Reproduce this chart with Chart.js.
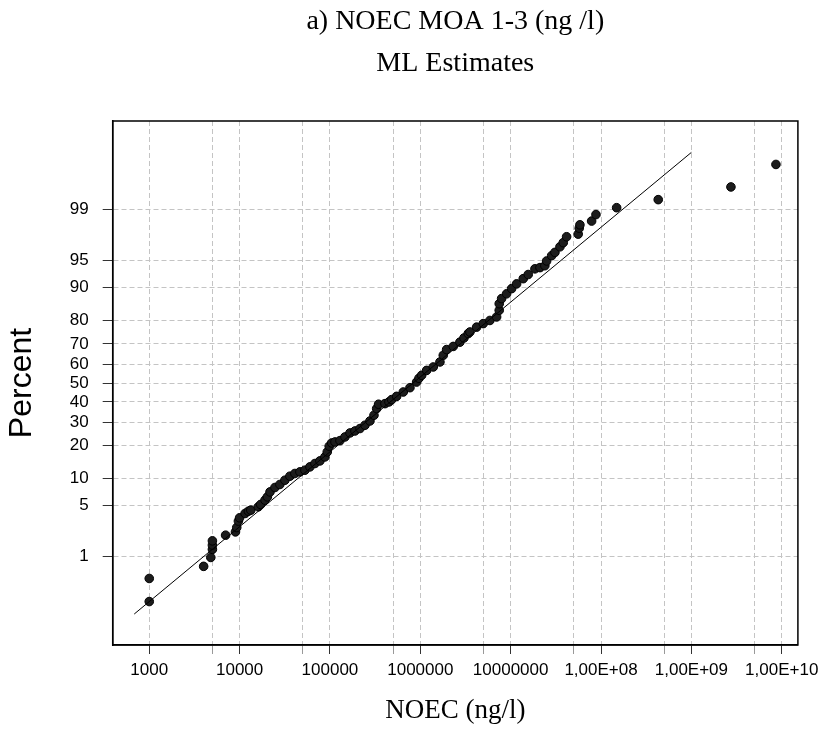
<!DOCTYPE html>
<html>
<head>
<meta charset="utf-8">
<script src="https://cdn.jsdelivr.net/npm/chart.js@4/dist/chart.umd.min.js"></script>
<style>
  body { margin: 0; background: #fff; }
  canvas { display: block; }
</style>
</head>
<body>
<canvas id="probChart" width="825" height="732"></canvas>
<script>
// NOEC values (ng/l) and their plotted percent
const noecValues = [1000, 1000, 4000, 4800, 5000, 5000, 5000, 7000, 9000, 9300, 9700, 10000,
  11500, 12500, 13300, 16100, 17100, 19100, 20300, 21700, 24600, 27900, 31700, 36000, 40900,
  46500, 52800, 60000, 68200, 77400, 87900, 93300, 98100, 104400, 113600, 129000, 146500,
  166500, 189000, 215000, 244000, 277000, 307000, 329000, 345000, 406000, 450000, 482000,
  547000, 648000, 768000, 910000, 966000, 1035000, 1175000, 1391000, 1649000, 1795000,
  1955000, 2313000, 2742000, 3041000, 3388000, 3540000, 4197000, 4970000, 5890000, 6990000,
  7470000, 7470000, 7940000, 9020000, 10250000, 11640000, 13780000, 15640000, 18560000,
  21100000, 23900000, 25000000, 28400000, 30900000, 35100000, 38200000, 41600000, 55900000,
  57400000, 58400000, 78700000, 87900000, 148900000, 429600000, 2740000000, 8630000000];
const percentValues = [0.17, 0.44, 0.70, 0.97, 1.29, 1.49, 1.72, 2.07, 2.30, 2.64, 3.21, 3.54,
  4.02, 4.29, 4.42, 4.85, 5.18, 5.82, 6.35, 7.22, 8.07, 8.69, 9.63, 10.58, 11.26,
  11.68, 12.13, 13.05, 14.03, 14.82, 16.09, 17.78, 19.85, 21.09, 21.48, 22.0, 23.49,
  25.17, 26.02, 27.09, 28.57, 30.54, 33.28, 36.58, 38.8, 39.1, 40.0, 41.2,
  42.9, 45.2, 47.5, 50.5, 52.5, 54.1, 56.7, 58.5, 61.1, 64.5,
  67.3, 68.8, 70.8, 72.7, 74.6, 75.3, 77.3, 78.7, 79.9, 81.2,
  83.5, 85.6, 87.1, 88.4, 89.7, 90.8, 91.9, 92.7, 93.7,
  93.9, 94.2, 94.9, 95.6, 96.0, 96.6, 97.0, 97.5, 97.7,
  98.1, 98.3, 98.5, 98.8, 99.06, 99.30, 99.57, 99.83];

// ML fit line end points
const fitNoec = [682, 1000000000];
const fitPercent = [0.098, 99.90];

// axes
const percentTicks = [1, 5, 10, 20, 30, 40, 50, 60, 70, 80, 90, 95, 99];
const xGridValues = [1000, 5000, 10000, 50000, 100000, 500000, 1000000, 5000000, 10000000,
  50000000, 100000000, 500000000, 1000000000, 5000000000, 10000000000];
const xLabelValues = [1000, 10000, 100000, 1000000, 10000000, 100000000, 1000000000, 10000000000];
const xLabels = ['1000', '10000', '100000', '1000000', '10000000', '1,00E+08', '1,00E+09', '1,00E+10'];
const xMin = 394, xMax = 15100000000;
const yMin = 0.0223, yMax = 99.9777;

// inverse normal cdf (Acklam)
function probit(p) {
  const a = [-3.969683028665376e+01, 2.209460984245205e+02, -2.759285104469687e+02, 1.383577518672690e+02, -3.066479806614716e+01, 2.506628277459239e+00];
  const b = [-5.447609879822406e+01, 1.615858368580409e+02, -1.556989798598866e+02, 6.680131188771972e+01, -1.328068155288572e+01];
  const c = [-7.784894002430293e-03, -3.223964580411365e-01, -2.400758277161838e+00, -2.549732539343734e+00, 4.374664141464968e+00, 2.938163982698783e+00];
  const d = [7.784695709041462e-03, 3.224671290700398e-01, 2.445134137142996e+00, 3.754408661907416e+00];
  const pl = 0.02425;
  let q, r;
  if (p < pl) {
    q = Math.sqrt(-2 * Math.log(p));
    return (((((c[0]*q+c[1])*q+c[2])*q+c[3])*q+c[4])*q+c[5]) / ((((d[0]*q+d[1])*q+d[2])*q+d[3])*q+1);
  }
  if (p <= 1 - pl) {
    q = p - 0.5; r = q * q;
    return (((((a[0]*r+a[1])*r+a[2])*r+a[3])*r+a[4])*r+a[5])*q / (((((b[0]*r+b[1])*r+b[2])*r+b[3])*r+b[4])*r+1);
  }
  q = Math.sqrt(-2 * Math.log(1 - p));
  return -(((((c[0]*q+c[1])*q+c[2])*q+c[3])*q+c[4])*q+c[5]) / ((((d[0]*q+d[1])*q+d[2])*q+d[3])*q+1);
}
function normCdf(z) {
  const t = 1 / (1 + 0.3275911 * Math.abs(z) / Math.SQRT2);
  const y = 1 - (((((1.061405429*t - 1.453152027)*t) + 1.421413741)*t - 0.284496736)*t + 0.254829592)*t * Math.exp(-z*z/2);
  return z >= 0 ? (1 + y) / 2 : (1 - y) / 2;
}

// normal probability (percent) scale
class ProbitScale extends Chart.Scale {
  static id = 'probit';
  static defaults = {};
  determineDataLimits() {
    this.min = this.options.min;
    this.max = this.options.max;
  }
  buildTicks() {
    return percentTicks.map(v => ({ value: v }));
  }
  getLabelForValue(v) { return String(v); }
  configure() {
    super.configure();
    this._zMin = probit(this.min / 100);
    this._zMax = probit(this.max / 100);
  }
  getPixelForValue(v) {
    return this.getPixelForDecimal((probit(v / 100) - this._zMin) / (this._zMax - this._zMin));
  }
  getValueForPixel(px) {
    const dec = this.getDecimalForPixel(px);
    return 100 * normCdf(this._zMin + dec * (this._zMax - this._zMin));
  }
}
Chart.register(ProbitScale);

const frame = {
  id: 'frame',
  afterDatasetsDraw(chart) {
    const { ctx, chartArea: a } = chart;
    ctx.save();
    ctx.strokeStyle = '#000';
    ctx.lineWidth = 1.5;
    ctx.strokeRect(a.left, a.top, a.right - a.left, a.bottom - a.top);
    ctx.restore();
  }
};

const ctx = document.getElementById('probChart').getContext('2d');
new Chart(ctx, {
  type: 'scatter',
  data: {
    datasets: [{
      label: 'ML fit',
      data: fitNoec.map((x, i) => ({ x: x, y: fitPercent[i] })),
      showLine: true,
      borderColor: '#000',
      borderWidth: 1,
      pointRadius: 0
    }, {
      label: 'NOEC',
      data: noecValues.map((x, i) => ({ x: x, y: percentValues[i] })),
      pointRadius: 4.3,
      pointBackgroundColor: '#1c1c1c',
      pointBorderColor: '#000',
      pointBorderWidth: 1
    }]
  },
  options: {
    responsive: false,
    animation: false,
    devicePixelRatio: 1,
    layout: { padding: { left: 0, right: 27, top: 0, bottom: 0 } },
    plugins: {
      legend: { display: false },
      tooltip: { enabled: false },
      title: {
        display: true,
        fullSize: false,
        text: ['a) NOEC MOA 1-3 (ng /l)', 'ML Estimates'],
        color: '#000',
        font: { family: 'Liberation Serif', size: 28, weight: 'normal', lineHeight: 1.5 },
        padding: { top: 1, bottom: 36 }
      }
    },
    scales: {
      x: {
        type: 'logarithmic',
        min: xMin,
        max: xMax,
        afterBuildTicks: s => {
          s.ticks = xGridValues.map(v => ({ value: v, major: xLabelValues.includes(v) }));
        },
        afterFit: s => { s.height = 87; },
        grid: {
          color: '#c4c4c4',
          tickLength: 9,
          tickBorderDash: [],
          tickColor: c => (c.tick && c.tick.major) ? '#333' : '#999'
        },
        border: { color: '#000', width: 1.5, dash: [5, 3] },
        ticks: {
          autoSkip: false,
          maxRotation: 0,
          padding: 6,
          color: '#000',
          font: { family: 'Liberation Sans', size: 17 },
          callback: v => {
            const i = xLabelValues.indexOf(v);
            return i >= 0 ? xLabels[i] : '';
          }
        },
        title: {
          display: true,
          text: 'NOEC (ng/l)',
          color: '#000',
          font: { family: 'Liberation Serif', size: 27 },
          padding: { top: 0, bottom: 5 }
        }
      },
      y: {
        type: 'probit',
        min: yMin,
        max: yMax,
        afterFit: s => { s.width = 112.7; },
        grid: { color: '#c4c4c4', tickLength: 10, tickBorderDash: [], tickColor: '#333' },
        border: { color: '#000', width: 1.5, dash: [5, 3] },
        ticks: {
          autoSkip: false,
          padding: 14,
          color: '#000',
          font: { family: 'Liberation Sans', size: 17 }
        },
        title: {
          display: true,
          text: 'Percent',
          color: '#000',
          font: { family: 'Liberation Sans', size: 32 },
          padding: { top: 3, bottom: 0 }
        }
      }
    }
  },
  plugins: [frame]
});
</script>
</body>
</html>
